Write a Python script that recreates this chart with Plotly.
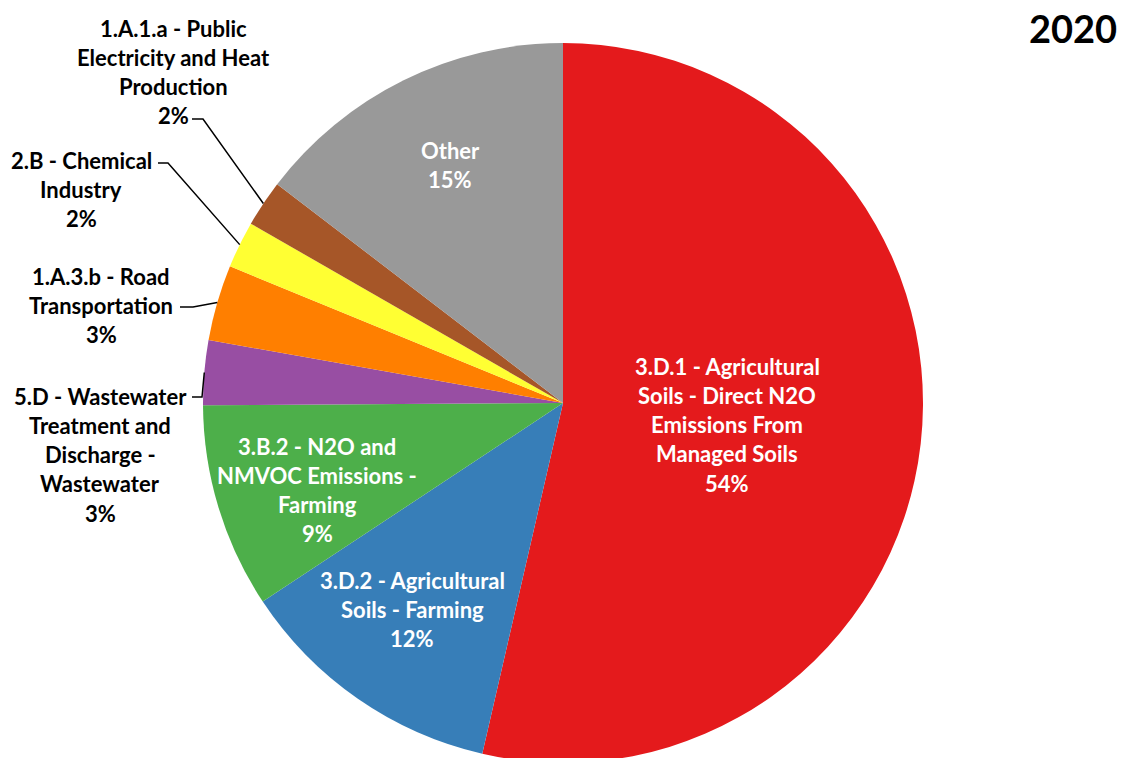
import math
import plotly.graph_objects as go

# Source categories, each name already broken into the lines it is printed on
category_lines = [
    ["3.D.1 - Agricultural", "Soils - Direct N2O", "Emissions From", "Managed Soils"],
    ["3.D.2 - Agricultural", "Soils - Farming"],
    ["3.B.2 - N2O and", "NMVOC Emissions -", "Farming"],
    ["5.D - Wastewater", "Treatment and", "Discharge -", "Wastewater"],
    ["1.A.3.b - Road", "Transportation"],
    ["2.B - Chemical", "Industry"],
    ["1.A.1.a - Public", "Electricity and Heat", "Production"],
    ["Other"],
]
categories = [" ".join(lines) for lines in category_lines]

# Share of 2020 N2O emissions (%)
shares = [53.6, 12.1, 9.2, 2.9, 3.4, 2.1, 2.1, 14.6]

colors = ["#E41A1C", "#377EB8", "#4DAF4A", "#984EA3",
          "#FF7F00", "#FFFF33", "#A65628", "#999999"]

# Page geometry (pixels)
W, H = 1121, 766
TOP, BOTTOM = 43, 3
CX, CY, R = 563, 403, 360
PLOT_H = H - TOP - BOTTOM


def px_x(x):
    return x / W


def px_y(y):
    return (H - BOTTOM - y) / PLOT_H


# Label placement: (centre x, first line y, inside?) in pixels
label_pos = [
    (727, 366, True),
    (412, 580, True),
    (317, 446, True),
    (100, 396, False),
    (101, 276, False),
    (81, 160, False),
    (174, 28, False),
    (450, 150, True),
]
# Leader lines for the outside labels: start point and elbow (pixels)
leaders = {
    3: [(192, 397), (202, 397)],
    4: [(180, 307), (193, 307)],
    5: [(158, 163), (168, 163)],
    6: [(192, 119), (203, 119)],
}
LINE_STEP = 29.3
FONT = "Lato"
FSIZE = 22

fig = go.Figure(go.Pie(
    labels=categories,
    values=shares,
    sort=False,
    direction="clockwise",
    rotation=0,
    marker=dict(colors=colors, line=dict(width=0)),
    textinfo="none",
    hoverinfo="label+percent",
    showlegend=False,
    domain=dict(x=[(CX - R) / W, (CX + R) / W], y=[0, 1]),
))

total = sum(shares)
annotations = []
shapes = []
cum = 0.0
for i, (lines, v) in enumerate(zip(category_lines, shares)):
    pct = f"{round(v / total * 100)}%"
    x0, y0, inside = label_pos[i]
    color = "white" if inside else "black"
    for k, line in enumerate(lines + [pct]):
        annotations.append(dict(
            x=px_x(x0), y=px_y(y0 + k * LINE_STEP), xref="paper", yref="paper",
            text=f"<b>{line}</b>", showarrow=False,
            xanchor="center", yanchor="middle",
            font=dict(family=FONT, size=FSIZE, color=color),
        ))
    mid = (cum + v / 2) / total
    cum += v
    if i in leaders:
        theta = 2 * math.pi * mid
        ex = CX + R * math.sin(theta)
        ey = CY - R * math.cos(theta)
        (sx, sy), (bx, by) = leaders[i]
        path = (f"M {px_x(sx)},{px_y(sy)} L {px_x(bx)},{px_y(by)} "
                f"L {px_x(ex)},{px_y(ey)}")
        shapes.append(dict(type="path", path=path, xref="paper", yref="paper",
                           line=dict(color="black", width=1.5)))

annotations.append(dict(
    x=px_x(1119), y=px_y(28), xref="paper", yref="paper",
    text="<b>2020</b>", showarrow=False, xanchor="right", yanchor="middle",
    font=dict(family=FONT, size=38, color="black"),
))

fig.update_layout(
    width=W, height=H,
    margin=dict(l=0, r=0, t=TOP, b=BOTTOM),
    paper_bgcolor="white", plot_bgcolor="white",
    annotations=annotations, shapes=shapes,
)

fig.write_html(
    "out.html",
    post_script=("document.documentElement.style.overflow='hidden';"
                 "document.body.style.overflow='hidden';"
                 "document.body.style.margin='0';"),
)
